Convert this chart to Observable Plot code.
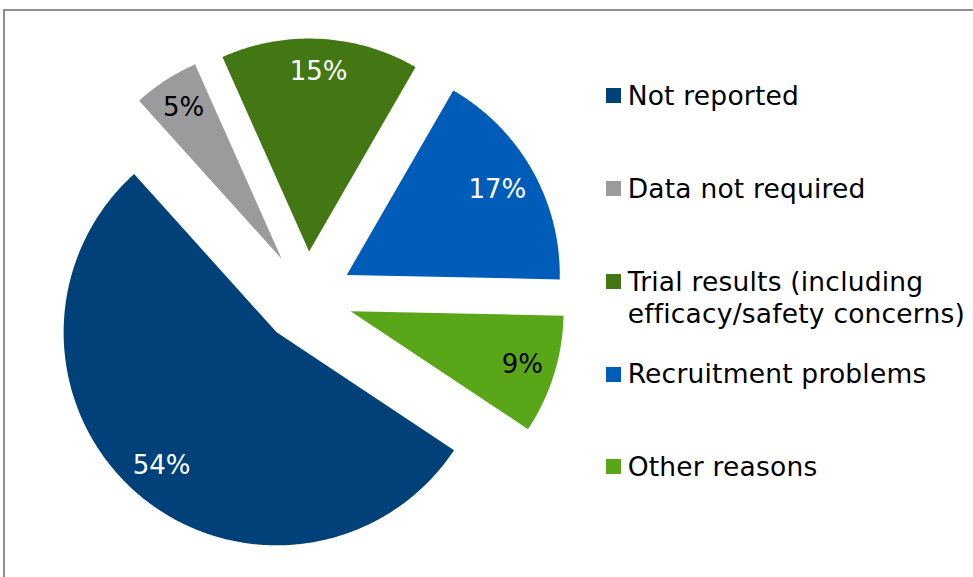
<!DOCTYPE html>
<html>
<head>
<meta charset="utf-8">
<script src="https://cdn.jsdelivr.net/npm/d3@7"></script>
<script src="https://cdn.jsdelivr.net/npm/@observablehq/plot@0.6"></script>
<style>
  html, body { margin: 0; padding: 0; background: #fff; overflow: hidden; }
  #wrap { position: relative; width: 973px; height: 577px; overflow: hidden; font-family: "DejaVu Sans", Verdana, sans-serif; }
  #frame { position: absolute; left: 3px; top: 9px; width: 1200px; height: 800px; border-left: 2px solid #8e8e8e; border-top: 2px solid #8e8e8e; }
  #chart { position: absolute; left: 0; top: 0; }
  .item { position: absolute; left: 606px; }
  .sw { position: absolute; left: 0; top: 8.3px; width: 15px; height: 15px; }
  .lab { position: absolute; left: 21.7px; top: 0; font-size: 26.5px; letter-spacing: 0.2px; line-height: 32px; white-space: pre; color: #000; }
</style>
</head>
<body>
<div id="wrap">
  <div id="frame"></div>
  <div id="chart"></div>
  <div id="legend"></div>
</div>
<script>
// ---- data ----
const categories = ["Not reported", "Data not required", "Trial results (including efficacy/safety concerns)", "Recruitment problems", "Other reasons"];
const legendLabels = ["Not reported", "Data not required", "Trial results (including\nefficacy/safety concerns)", "Recruitment problems", "Other reasons"];
const values = [54, 5, 15, 17, 9];
const valueLabels = ["54%", "5%", "15%", "17%", "9%"];
const colors = ["#00417a", "#9a9b9d", "#427714", "#005cb9", "#5aa619"];
const labelColors = ["#ffffff", "#000000", "#ffffff", "#ffffff", "#000000"];

// ---- layout ----
const W = 973, H = 577;
const R = 213;            // radius in px
const cx = 306.2, cy = 297;
const explode = 46 / R;   // explosion as fraction of radius
const startDeg = 123.6;
const labelFrac = 0.845;  // preferred label distance (fraction of radius)
const fitFrac = 0.953;    // label box corner must stay within this radius
const labelFont = 26;
const fontFamily = "DejaVu Sans, Verdana, sans-serif";

const ctx = document.createElement("canvas").getContext("2d");
ctx.font = `${labelFont}px ${fontFamily}`;

const a0 = startDeg * Math.PI / 180;
const arcs = d3.pie().value(d => d).sort(null).startAngle(a0).endAngle(a0 + 2 * Math.PI)(values);

const pts = [];
const labels = [];
arcs.forEach((a, i) => {
  const mid = (a.startAngle + a.endAngle) / 2;
  const ux = Math.sin(mid), uy = Math.cos(mid);
  const ox = explode * ux, oy = explode * uy;
  pts.push({i, x: ox, y: oy});
  const n = Math.max(8, Math.ceil((a.endAngle - a.startAngle) / (Math.PI / 360)));
  for (let k = 0; k <= n; k++) {
    const t = a.startAngle + (a.endAngle - a.startAngle) * k / n;
    pts.push({i, x: ox + Math.sin(t), y: oy + Math.cos(t)});
  }
  pts.push({i, x: ox, y: oy});
  // label distance: preferred, reduced so the text box corner fits
  const hw = ctx.measureText(valueLabels[i]).width / 2 / R;
  const hh = 10 / R;
  const bx = Math.sign(ux) * hw, by = Math.sign(uy) * hh;
  const b = ux * bx + uy * by, c = bx * bx + by * by - fitFrac * fitFrac;
  const tFit = -b + Math.sqrt(b * b - c);
  const t = Math.min(labelFrac, tFit);
  labels.push({i, x: ox + t * ux, y: oy + t * uy, text: valueLabels[i]});
});

const chart = Plot.plot({
  width: W, height: H, margin: 0,
  style: {background: "transparent", overflow: "visible"},
  x: {domain: [-cx / R, (W - cx) / R], axis: null},
  y: {domain: [-(H - cy) / R, cy / R], axis: null},
  color: {type: "identity"},
  marks: [
    Plot.line(pts, {x: "x", y: "y", z: "i", fill: d => colors[d.i], stroke: "none", curve: "linear"}),
    Plot.text(labels, {x: "x", y: "y", text: "text", fill: d => labelColors[d.i], fontSize: labelFont, fontFamily})
  ]
});
document.getElementById("chart").appendChild(chart);

// ---- legend ----
const legend = document.getElementById("legend");
legendLabels.forEach((lab, i) => {
  const baseline = 105 + i * 92.75;
  const item = document.createElement("div");
  item.className = "item";
  item.style.top = (baseline - 25) + "px";
  const sw = document.createElement("div");
  sw.className = "sw";
  sw.style.background = colors[i];
  const tx = document.createElement("div");
  tx.className = "lab";
  tx.textContent = lab;
  item.appendChild(sw);
  item.appendChild(tx);
  legend.appendChild(item);
});
</script>
</body>
</html>
